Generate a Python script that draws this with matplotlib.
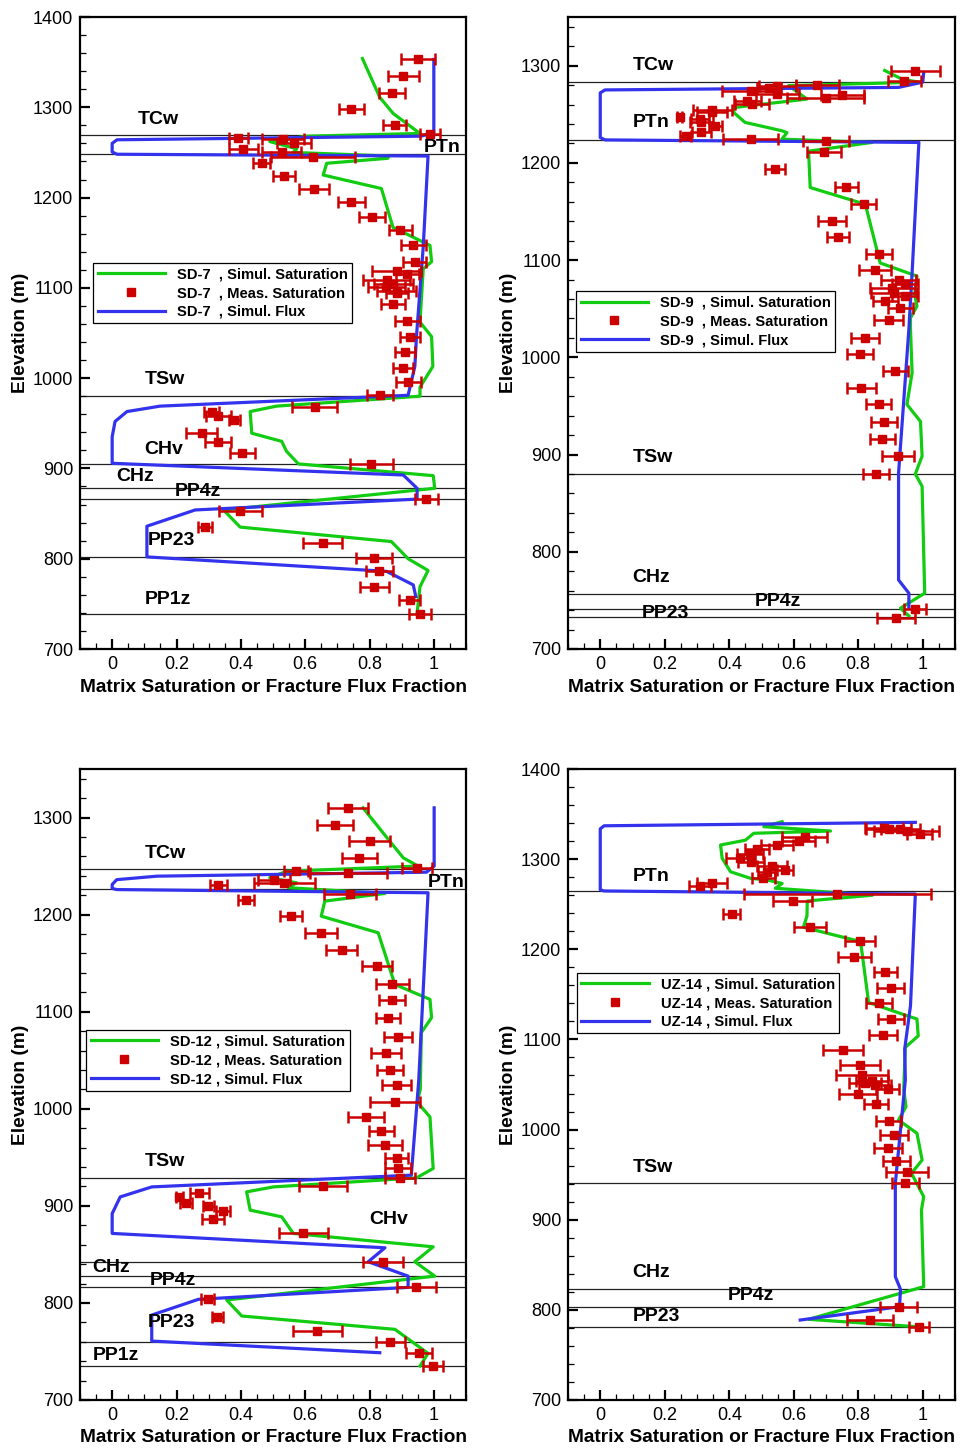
import matplotlib
matplotlib.use('Agg')
import matplotlib.pyplot as plt
from matplotlib.ticker import MultipleLocator
from matplotlib.lines import Line2D

plt.rcParams['font.family'] = ['Liberation Sans', 'DejaVu Sans']

# ---------------- SD-7 ----------------
sd7_sat_elev = [1354, 1311, 1293, 1271, 1268, 1262, 1254, 1250, 1246, 1243.5, 1238, 1225, 1210, 1167,
                1147, 1129, 1121, 1062, 1046, 1013, 990, 980, 969, 963, 939, 930, 919, 905, 892, 878,
                854, 835, 819, 800, 787, 769, 740]
sd7_sat = [.778, .832, .874, .957, .605, .49, .574, .563, .86, .857, .667, .656, .837, .873,
           .988, .993, .967, .957, .993, .997, .957, .957, .511, .429, .434, .527, .542, .579, .998, 1.003,
           .346, .398, .868, .92, .982, .957, .948]
sd7_flux_elev = [1353, 1272, 1268, 1264, 1260, 1250.5, 1248, 1246, 1145, 1046, 1013, 981, 969, 963, 952,
                 935, 905.7, 892.7, 878, 866, 854, 836, 802, 786, 771, 758]
sd7_flux = [1.0, 1.0, .96, .015, 0, 0, .015, .982, .967, .946, .941, .92, .149, .046, .009,
            0, 0, .905, .948, .948, .258, .108, .108, .853, .936, .944]
sd7_meas_elev = [1353, 1335, 1316, 1298.5, 1280, 1270, 1265.5, 1265, 1260.5, 1253.5, 1250.5, 1245, 1238,
                 1224, 1209, 1195.5, 1179, 1164, 1147.5, 1129, 1118.5, 1115, 1108.5, 1104, 1101, 1097,
                 1094, 1082.5, 1063, 1046, 1028.6, 1011.6, 995.4, 981, 968.4, 963, 958, 953.7, 939,
                 929.6, 916.8, 904.6, 866, 853, 835.5, 817.8, 801, 786.4, 769, 754.3, 738.5]
sd7_meas = [.951, .905, .871, .744, .879, .988, .392, .53, .565, .408, .527, .625, .465,
            .535, .627, .744, .808, .896, .936, .941, .884, .918, .853, .874, .852, .884,
            .886, .872, .918, .925, .91, .905, .92, .832, .63, .31, .33, .379, .278,
            .33, .405, .806, .977, .398, .289, .654, .815, .83, .815, .925, .957]
sd7_meas_err = [.052, .048, .04, .04, .036, .031, .03, .065, .054, .044, .06, .13, .026,
                .034, .047, .041, .041, .035, .039, .036, .075, .035, .072, .06, .057, .06,
                .034, .037, .039, .031, .031, .031, .039, .04, .07, .023, .039, .017, .048,
                .04, .039, .066, .036, .067, .021, .062, .056, .042, .045, .033, .033]
sd7_layers = [1269, 1248, 980, 905, 878, 866, 802, 738.5]
sd7_names = ['TCw', 'PTn', 'TSw', 'CHv', 'CHz', 'PP4z', 'PP23', 'PP1z']
sd7_name_pos = [(.078, 1286), (.97, 1255), (.10, 998), (.10, 921), (.012, 891), (.196, 874),
                (.11, 820), (.10, 755)]

# ---------------- SD-9 ----------------
sd9_sat_elev = [1295, 1286, 1283, 1279.4, 1265.6, 1257, 1252, 1241.6, 1233, 1231, 1224.4, 1221, 1212,
                1174.6, 1157.4, 1097, 1083.5, 1065, 1052.6, 1040.5, 1029, 984, 951.5, 934, 898.4, 880,
                867.3, 757.4, 742, 734]
sd9_sat = [.882, .936, .988, .584, .641, .418, .413, .449, .563, .579, .563, .843, .646,
           .651, .822, .868, .982, .975, .982, .962, .962, .967, .951, .993, .998, .977,
           .998, 1.006, .931, .957]
sd9_flux_elev = [1293, 1283, 1277.6, 1275, 1272, 1226, 1223.6, 1221, 1087, 1029, 881, 771, 757.4, 743]
sd9_flux = [1.003, 1.0, .925, .015, 0, 0, .015, .988, .967, .957, .925, .925, .957, .957]
sd9_meas_elev = [1294.8, 1284, 1280.4, 1279, 1277, 1274, 1271, 1269.4, 1267, 1264, 1261, 1254, 1252.6,
                 1246.7, 1245.4, 1241.6, 1238, 1232, 1228, 1224.5, 1222.5, 1211.3, 1193.5, 1175.3,
                 1157.4, 1140, 1123.7, 1106.5, 1089.7, 1080, 1075, 1071.5, 1066.3, 1063, 1057.7,
                 1050.9, 1038, 1020.3, 1003, 985.9, 968.8, 951.5, 933.7, 916.2, 899, 880, 740.9, 731.6]
sd9_meas = [.977, .943, .673, .549, .523, .467, .549, .751, .699, .456, .471, .347, .346,
            .247, .31, .313, .356, .313, .265, .467, .7, .693, .542, .763,
            .817, .718, .737, .865, .853, .925, .946, .905, .91, .946, .884,
            .931, .894, .82, .806, .915, .81, .863, .879, .874, .923, .855, .977, .917]
sd9_meas_err = [.076, .052, .067, .057, .036, .088, .067, .067, .119, .041, .052, .06, .047,
                .008, .028, .036, .02, .03, .017, .085, .07, .053, .032, .035,
                .039, .044, .034, .041, .05, .054, .04, .07, .072, .04, .039,
                .039, .046, .043, .041, .039, .044, .039, .041, .039, .049, .041, .034, .058]
sd9_layers = [1283, 1223.4, 880, 756.7, 740.9, 732.7]
sd9_names = ['TCw', 'PTn', 'TSw', 'CHz', 'PP4z', 'PP23']
sd9_name_pos = [(.10, 1300), (.10, 1241), (.10, 897), (.10, 774), (.478, 749), (.13, 737)]

# ---------------- SD-12 ----------------
sd12_sat_elev = [1310, 1275.6, 1258.5, 1250, 1244.7, 1238, 1232.8, 1227.7, 1221.8, 1213.9, 1198.4,
                 1181.3, 1128, 1112.7, 1093.9, 1078.4, 1020, 1007, 991.6, 938.5, 928.8, 919.5, 914.4,
                 895.6, 888.7, 871.6, 857.8, 842.4, 827.6, 803, 786.5, 772.8, 748, 735]
sd12_sat = [.78, .863, .905, .951, .543, .49, .573, .548, .848, .661, .65,
            .827, .879, .988, .993, .961, .958, .948, .988, .998, .946, .501, .418,
            .429, .527, .563, .998, .941, 1.003, .356, .403, .879, .982, .957]
sd12_flux_elev = [1310, 1250, 1243.7, 1239.6, 1236, 1231, 1227, 1225.8, 1222.5, 1029, 931.6, 919.5,
                  909.2, 892, 871.6, 856.8, 842.4, 827.6, 816, 803.7, 787.5, 760.7, 748.7]
sd12_flux = [1.001, 1.001, .977, .139, .014, 0, 0, .014, .982, .953, .93, .123,
             .025, 0, 0, .848, .796, .92, .92, .268, .123, .123, .832]
sd12_meas_elev = [1310, 1292.8, 1275.6, 1258.5, 1248, 1245, 1243, 1236, 1233, 1230, 1221.5, 1215,
                  1198.4, 1181.3, 1164, 1147, 1128.9, 1111.7, 1093.1, 1074.3, 1057.1, 1040, 1024.2,
                  1007, 991.6, 976.8, 962.5, 949.4, 938.5, 928.8, 920, 913.4, 909.2, 903, 899.7,
                  894.8, 886, 871.6, 842.4, 816, 803.6, 785.8, 771.3, 760, 748, 735]
sd12_meas = [.734, .693, .801, .768, .948, .572, .734, .503, .535, .33, .739, .416,
             .555, .65, .713, .824, .871, .869, .858, .889, .851, .863, .884,
             .879, .789, .837, .848, .884, .889, .896, .656, .271, .209, .23, .299,
             .344, .313, .594, .843, .946, .297, .327, .638, .865, .954, .996]
sd12_meas_err = [.062, .055, .064, .055, .046, .037, .12, .05, .095, .026, .08, .025,
                 .034, .049, .048, .047, .052, .04, .038, .044, .047, .04, .044,
                 .078, .055, .039, .053, .036, .041, .047, .075, .03, .012, .018, .018,
                 .022, .034, .076, .062, .062, .021, .017, .076, .046, .041, .031]
sd12_layers = [1247.5, 1226, 928.8, 842.4, 827.6, 816, 760, 735.3]
sd12_names = ['TCw', 'PTn', 'TSw', 'CHv', 'CHz', 'PP4z', 'PP23', 'PP1z']
sd12_name_pos = [(.10, 1263), (.98, 1233), (.10, 946), (.80, 886), (-.062, 837), (.118, 823),
                 (.11, 780), (-.06, 746)]

# ---------------- UZ-14 ----------------
uz14_sat_elev = [1341.5, 1336, 1331.2, 1328.7, 1321, 1315.7, 1301, 1286, 1278.7, 1276.9, 1273, 1267.7,
                 1260, 1253.6, 1237, 1224.4, 1210, 1204, 1141, 1126.3, 1122.7, 1104, 1091.2, 1045,
                 1025.4, 1010.6, 995.9, 966.2, 951.5, 940, 925.5, 910.8, 825.7, 789.5, 781.3]
uz14_sat = [.564, .507, .714, .476, .45, .373, .378, .404, .466, .518, .564, .543,
            .844, .642, .641, .63, .791, .809, .832, .951, .982, .986, .946, .941,
            .948, .925, .982, .998, .965, .982, 1.003, .996, 1.003, .646, .982]
uz14_flux_elev = [1340.8, 1337, 1333.6, 1266, 1264.7, 1261.3, 1137.4, 1089.4, 1055, 940.4, 836.8,
                  822.8, 803.5, 788.7]
uz14_flux = [.977, .012, 0, 0, .012, .977, .962, .944, .946, .915, .915, .931, .928, .62]
uz14_meas_elev = [1335, 1333, 1333, 1331, 1327.6, 1324.9, 1320.5, 1315.7, 1311.2, 1305.7, 1300.9,
                  1297.2, 1292, 1288, 1285.4, 1278.7, 1273, 1270, 1261.3, 1254, 1239, 1224.4, 1208.8,
                  1191, 1174.5, 1157, 1140, 1122.7, 1105, 1088.3, 1071.6, 1060.5, 1054.2, 1051.3,
                  1049.4, 1044.7, 1040, 1028, 1009.8, 994, 979.2, 965.5, 952.6, 940.4, 803.5,
                  788.7, 781.3]
uz14_meas = [.88, .895, .93, .95, .99, .634, .615, .548, .486, .465, .434,
             .468, .532, .573, .516, .506, .346, .31, .735, .597, .408, .651, .806,
             .788, .884, .9, .865, .902, .876, .753, .806, .812, .843, .822,
             .853, .891, .799, .855, .894, .911, .892, .918, .951, .946, .925,
             .837, .988]
uz14_meas_err = [.06, .07, .06, .1, .04, .07, .05, .05, .036, .04, .045,
                 .04, .046, .026, .026, .036, .047, .034, .29, .06, .026, .049, .047,
                 .052, .035, .043, .04, .04, .044, .061, .062, .08, .05, .05,
                 .05, .036, .06, .036, .04, .043, .043, .041, .066, .041, .057,
                 .071, .032]
uz14_layers = [1264.7, 940.4, 822.8, 803.5, 781.3]
uz14_names = ['PTn', 'TSw', 'CHz', 'PP4z', 'PP23']
uz14_name_pos = [(.10, 1281), (.10, 958), (.10, 841), (.394, 815.4), (.10, 793)]

GREEN = '#11cc11'
BLUE = '#3333ee'
RED = '#cc0000'

fig = plt.figure(figsize=(9.6, 14.48), dpi=100)

panels = [
    dict(rect=[80/960, 1-649/1448, 386/960, 632/1448], ylim=(700, 1400), well='SD-7  ',
         sat=(sd7_sat_elev, sd7_sat), flux=(sd7_flux_elev, sd7_flux),
         meas=(sd7_meas_elev, sd7_meas, sd7_meas_err), layers=sd7_layers,
         names=sd7_names, pos=sd7_name_pos, leg=(0.034, 0.611)),
    dict(rect=[568/960, 1-649/1448, 387/960, 632/1448], ylim=(700, 1350), well='SD-9  ',
         sat=(sd9_sat_elev, sd9_sat), flux=(sd9_flux_elev, sd9_flux),
         meas=(sd9_meas_elev, sd9_meas, sd9_meas_err), layers=sd9_layers,
         names=sd9_names, pos=sd9_name_pos, leg=(0.021, 0.566)),
    dict(rect=[80/960, 1-1400/1448, 386/960, 631/1448], ylim=(700, 1350), well='SD-12 ',
         sat=(sd12_sat_elev, sd12_sat), flux=(sd12_flux_elev, sd12_flux),
         meas=(sd12_meas_elev, sd12_meas, sd12_meas_err), layers=sd12_layers,
         names=sd12_names, pos=sd12_name_pos, leg=(0.016, 0.586)),
    dict(rect=[568/960, 1-1400/1448, 387/960, 631/1448], ylim=(700, 1400), well='UZ-14 ',
         sat=(uz14_sat_elev, uz14_sat), flux=(uz14_flux_elev, uz14_flux),
         meas=(uz14_meas_elev, uz14_meas, uz14_meas_err), layers=uz14_layers,
         names=uz14_names, pos=uz14_name_pos, leg=(0.023, 0.677)),
]

for p in panels:
    ax = fig.add_axes(p['rect'])
    ax.set_xlim(-0.1, 1.1)
    ax.set_ylim(*p['ylim'])
    for y in p['layers']:
        ax.axhline(y, color='#222222', lw=0.9, zorder=1)
    ax.plot(p['sat'][1], p['sat'][0], color=GREEN, lw=2.3, zorder=2)
    ax.plot(p['flux'][1], p['flux'][0], color=BLUE, lw=2.3, zorder=3)
    me, mv, mr = p['meas']
    ax.errorbar(mv, me, xerr=mr, fmt='s', color=RED, ms=5.5, capsize=4.2,
                elinewidth=1.8, capthick=1.8, zorder=4)
    for name, (tx, ty) in zip(p['names'], p['pos']):
        ax.text(tx, ty, name, fontsize=14, fontweight='bold', va='center', ha='left', zorder=5)
    ax.xaxis.set_minor_locator(MultipleLocator(0.05))
    ax.yaxis.set_major_locator(MultipleLocator(100))
    ax.yaxis.set_minor_locator(MultipleLocator(20))
    ax.set_xticks([0, 0.2, 0.4, 0.6, 0.8, 1.0])
    ax.set_xticklabels(['0', '0.2', '0.4', '0.6', '0.8', '1'])
    ax.tick_params(which='major', direction='in', length=7, width=1.6, labelsize=13,
                   top=False, right=False, pad=5)
    ax.tick_params(which='minor', direction='in', length=4, width=0.9, top=False, right=False)
    for s in ax.spines.values():
        s.set_linewidth(1.6)
    ax.set_xlabel('Matrix Saturation or Fracture Flux Fraction', fontsize=13.8, fontweight='bold',
                  labelpad=4)
    ax.set_ylabel('Elevation (m)', fontsize=13.8, fontweight='bold', labelpad=3)
    w = p['well']
    handles = [Line2D([], [], color=GREEN, lw=2.3),
               Line2D([], [], color=RED, marker='s', ls='none', ms=5.5),
               Line2D([], [], color=BLUE, lw=2.3)]
    labels = [w + ', Simul. Saturation', w + ', Meas. Saturation', w + ', Simul. Flux']
    leg = ax.legend(handles, labels, loc='upper left', bbox_to_anchor=p['leg'],
                    prop={'size': 10.6, 'weight': 'bold'}, frameon=True, fancybox=False,
                    edgecolor='black', framealpha=1, handlelength=4.6, borderpad=0.3,
                    labelspacing=0.33, handletextpad=0.8, borderaxespad=0)
    leg.get_frame().set_linewidth(0.9)
    leg.set_zorder(6)

fig.savefig('out.png', dpi=100)
